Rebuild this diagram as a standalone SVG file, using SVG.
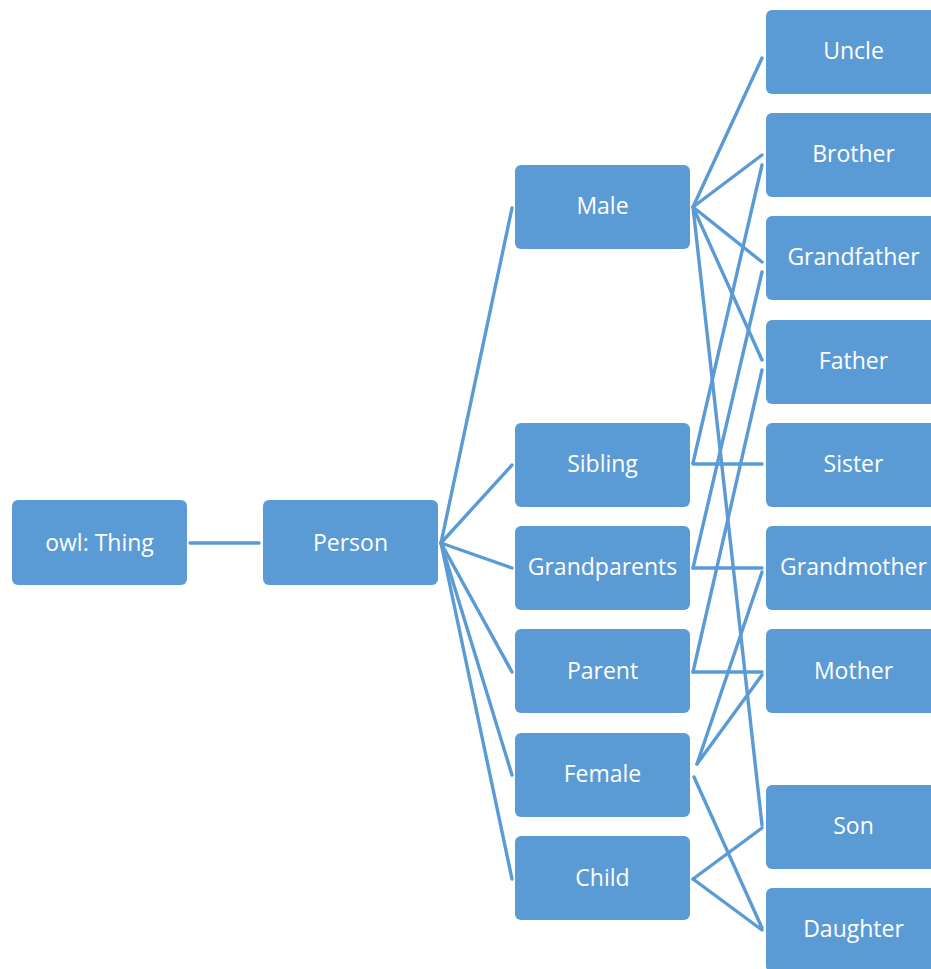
<svg xmlns="http://www.w3.org/2000/svg" width="931" height="969" viewBox="0 0 931 969">
<style>
.box{fill:#5B9BD5;}
.lbl{font-family:"Open Sans","Liberation Sans",sans-serif;font-size:23px;fill:#FFFFFF;text-anchor:middle;}
.con line{stroke:#5B9BD5;stroke-width:3.4;stroke-linecap:round;}
</style>
<rect width="931" height="969" fill="#FFFFFF"/>
<g class="con" id="connectors">
<line x1="190" y1="543" x2="259" y2="543"/>
<line x1="441" y1="543" x2="512" y2="208"/>
<line x1="441" y1="543" x2="512" y2="465"/>
<line x1="441" y1="543" x2="512" y2="568"/>
<line x1="441" y1="543" x2="512" y2="672"/>
<line x1="441" y1="543" x2="512" y2="775"/>
<line x1="441" y1="543" x2="512" y2="879"/>
<line x1="693" y1="207" x2="762" y2="58"/>
<line x1="693" y1="207" x2="762" y2="155"/>
<line x1="693" y1="207" x2="762" y2="262"/>
<line x1="693" y1="207" x2="762" y2="360"/>
<line x1="693" y1="207" x2="762" y2="825"/>
<line x1="693" y1="463" x2="762" y2="165"/>
<line x1="693" y1="464" x2="762" y2="464"/>
<line x1="693" y1="568" x2="762" y2="272"/>
<line x1="693" y1="568" x2="762" y2="568"/>
<line x1="693" y1="672" x2="762" y2="370"/>
<line x1="693" y1="672" x2="762" y2="672"/>
<line x1="697" y1="764" x2="762" y2="572"/>
<line x1="697" y1="764" x2="762" y2="675"/>
<line x1="694" y1="777" x2="762" y2="928"/>
<line x1="693" y1="879" x2="762" y2="828"/>
<line x1="693" y1="879" x2="762" y2="930"/>
</g>
<g id="owl-thing"><rect class="box" x="12" y="500" width="175" height="85" rx="6"/><text class="lbl" x="99.5" y="551">owl: Thing</text></g>
<g id="person"><rect class="box" x="263" y="500" width="175" height="85" rx="6"/><text class="lbl" x="350.5" y="551">Person</text></g>
<g id="male"><rect class="box" x="515" y="165" width="175" height="84" rx="6"/><text class="lbl" x="602.5" y="214">Male</text></g>
<g id="sibling"><rect class="box" x="515" y="423" width="175" height="84" rx="6"/><text class="lbl" x="602.5" y="472">Sibling</text></g>
<g id="grandparents"><rect class="box" x="515" y="526" width="175" height="84" rx="6"/><text class="lbl" x="602.5" y="575">Grandparents</text></g>
<g id="parent"><rect class="box" x="515" y="629" width="175" height="84" rx="6"/><text class="lbl" x="602.5" y="679">Parent</text></g>
<g id="female"><rect class="box" x="515" y="733" width="175" height="84" rx="6"/><text class="lbl" x="602.5" y="782">Female</text></g>
<g id="child"><rect class="box" x="515" y="836" width="175" height="84" rx="6"/><text class="lbl" x="602.5" y="886">Child</text></g>
<g id="uncle"><rect class="box" x="766" y="10" width="175" height="84" rx="6"/><text class="lbl" x="853.5" y="59">Uncle</text></g>
<g id="brother"><rect class="box" x="766" y="113" width="175" height="84" rx="6"/><text class="lbl" x="853.5" y="162">Brother</text></g>
<g id="grandfather"><rect class="box" x="766" y="216" width="175" height="84" rx="6"/><text class="lbl" x="853.5" y="265">Grandfather</text></g>
<g id="father"><rect class="box" x="766" y="320" width="175" height="84" rx="6"/><text class="lbl" x="853.5" y="369">Father</text></g>
<g id="sister"><rect class="box" x="766" y="423" width="175" height="84" rx="6"/><text class="lbl" x="853.5" y="472">Sister</text></g>
<g id="grandmother"><rect class="box" x="766" y="526" width="175" height="84" rx="6"/><text class="lbl" x="853.5" y="575">Grandmother</text></g>
<g id="mother"><rect class="box" x="766" y="629" width="175" height="84" rx="6"/><text class="lbl" x="853.5" y="679">Mother</text></g>
<g id="son"><rect class="box" x="766" y="785" width="175" height="84" rx="6"/><text class="lbl" x="853.5" y="834">Son</text></g>
<g id="daughter"><rect class="box" x="766" y="888" width="175" height="84" rx="6"/><text class="lbl" x="853.5" y="937">Daughter</text></g>
</svg>
